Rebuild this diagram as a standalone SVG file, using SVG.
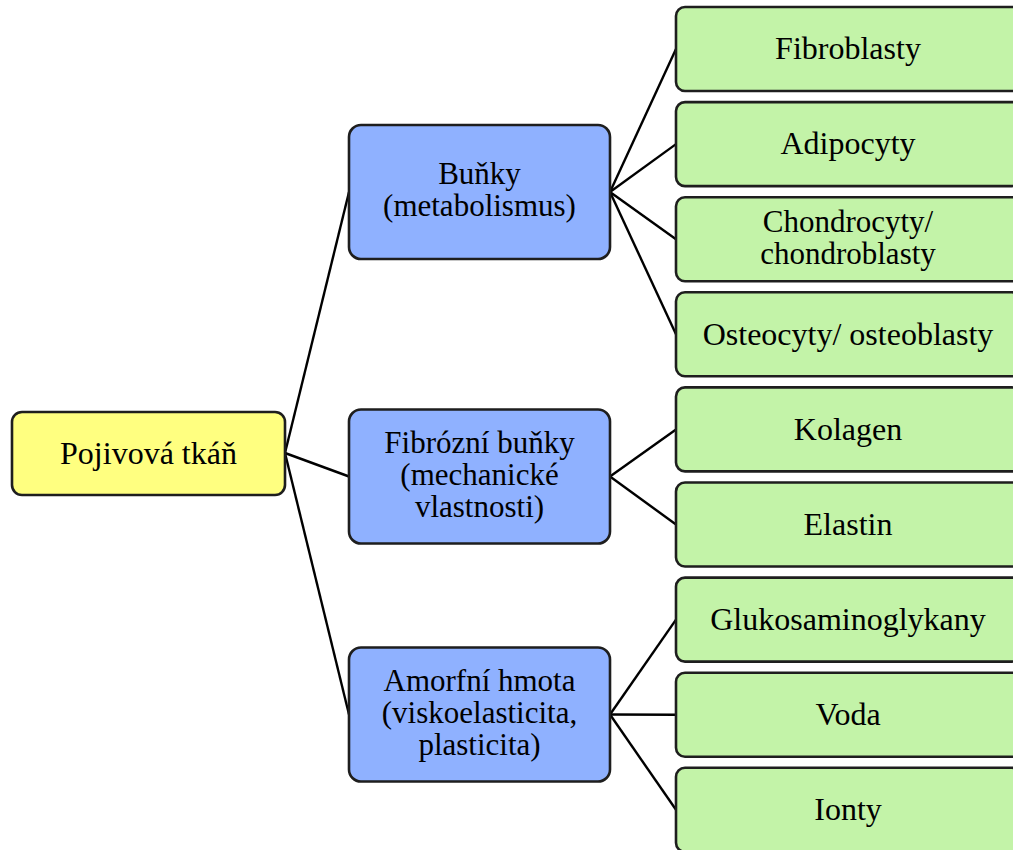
<svg xmlns="http://www.w3.org/2000/svg" width="1013" height="850" viewBox="0 0 1013 850">
<style>
  .box { stroke: #1e1e1e; stroke-width: 2.6; }
  .root { fill: #FFFF80; }
  .mid { fill: #8FB1FF; }
  .leaf { fill: #C3F3A8; }
  text { font-family: "Liberation Serif", "Times New Roman", serif; font-size: 31px; fill: #000; text-anchor: middle; }
  .big { font-size: 32px; }
  .conn line { stroke: #000; stroke-width: 2.4; }
</style>
<rect width="1013" height="850" fill="#fff"/>
<g class="conn">
  <line x1="285" y1="453" x2="349" y2="192"/>
  <line x1="285" y1="453" x2="349" y2="476.5"/>
  <line x1="285" y1="453" x2="349" y2="714.5"/>
  <line x1="610" y1="192" x2="676" y2="49"/>
  <line x1="610" y1="192" x2="676" y2="144.1"/>
  <line x1="610" y1="192" x2="676" y2="239.2"/>
  <line x1="610" y1="192" x2="676" y2="334.3"/>
  <line x1="610" y1="476.5" x2="676" y2="429.4"/>
  <line x1="610" y1="476.5" x2="676" y2="524.5"/>
  <line x1="610" y1="714.5" x2="676" y2="619.6"/>
  <line x1="610" y1="714.5" x2="676" y2="714.7"/>
  <line x1="610" y1="714.5" x2="676" y2="809.8"/>
</g>
<g id="n-root">
  <rect class="box root" x="12" y="412" width="273" height="83" rx="10"/>
  <text class="big" x="148.5" y="463.5">Pojivová tkáň</text>
</g>
<g id="n-bunky">
  <rect class="box mid" x="349" y="125" width="261" height="134" rx="12"/>
  <text x="479.5" y="184">Buňky</text>
  <text x="479.5" y="216">(metabolismus)</text>
</g>
<g id="n-fibrozni">
  <rect class="box mid" x="349" y="409.5" width="261" height="134" rx="12"/>
  <text x="479.5" y="453">Fibrózní buňky</text>
  <text x="479.5" y="485">(mechanické</text>
  <text x="479.5" y="517">vlastnosti)</text>
</g>
<g id="n-amorfni">
  <rect class="box mid" x="349" y="647.5" width="261" height="134" rx="12"/>
  <text x="479.5" y="691">Amorfní hmota</text>
  <text x="479.5" y="723">(viskoelasticita,</text>
  <text x="479.5" y="755">plasticita)</text>
</g>
<g id="n-fibroblasty">
  <rect class="box leaf" x="676" y="7" width="345" height="84" rx="9"/>
  <text class="big" x="848" y="59">Fibroblasty</text>
</g>
<g id="n-adipocyty">
  <rect class="box leaf" x="676" y="102.1" width="345" height="84" rx="9"/>
  <text class="big" x="848" y="154">Adipocyty</text>
</g>
<g id="n-chondrocyty">
  <rect class="box leaf" x="676" y="197.2" width="345" height="84" rx="9"/>
  <text x="848" y="231.5">Chondrocyty/</text>
  <text x="848" y="263.5">chondroblasty</text>
</g>
<g id="n-osteocyty">
  <rect class="box leaf" x="676" y="292.3" width="345" height="84" rx="9"/>
  <text class="big" x="848" y="344.5">Osteocyty/ osteoblasty</text>
</g>
<g id="n-kolagen">
  <rect class="box leaf" x="676" y="387.4" width="345" height="84" rx="9"/>
  <text class="big" x="848" y="439.5">Kolagen</text>
</g>
<g id="n-elastin">
  <rect class="box leaf" x="676" y="482.5" width="345" height="84" rx="9"/>
  <text class="big" x="848" y="534.5">Elastin</text>
</g>
<g id="n-glukosaminoglykany">
  <rect class="box leaf" x="676" y="577.6" width="345" height="84" rx="9"/>
  <text class="big" x="848" y="629.5">Glukosaminoglykany</text>
</g>
<g id="n-voda">
  <rect class="box leaf" x="676" y="672.7" width="345" height="84" rx="9"/>
  <text class="big" x="848" y="724.5">Voda</text>
</g>
<g id="n-ionty">
  <rect class="box leaf" x="676" y="767.8" width="345" height="84" rx="9"/>
  <text class="big" x="848" y="820">Ionty</text>
</g>
</svg>
